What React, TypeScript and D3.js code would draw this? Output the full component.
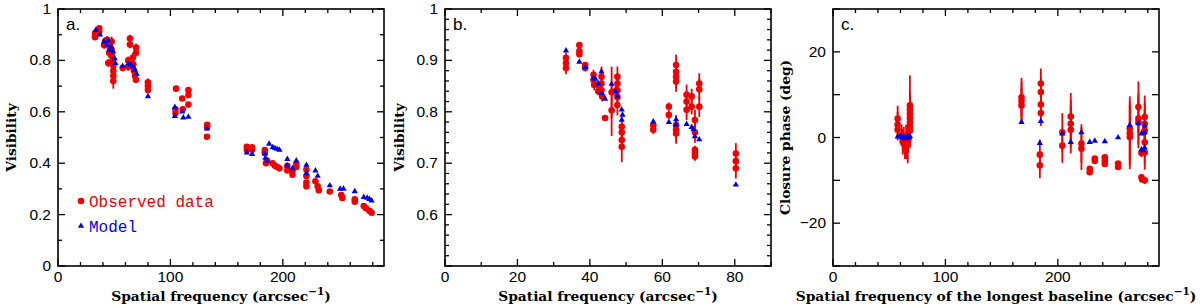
import React from 'react';
import * as d3 from 'd3';

// panel a: visibility vs spatial frequency (all baselines)
const aObsX = [33, 33, 36.7, 36.7, 42, 43.8, 44.7, 46, 47.7, 47.7, 47.7, 48.5, 49.2, 49.2, 49.2, 49.2, 41, 45.5,
  57.5, 62.5, 62.5, 64, 64, 66.5, 67, 67.5, 69.5, 69.5, 69.3, 68.5, 80, 80, 80,
  105, 104.5, 104.5, 110.5, 111, 116, 116, 116, 132.7, 132.7, 132.5,
  168, 168, 172.7, 172.7, 184, 184, 185, 186, 191, 193, 195, 197, 204, 204, 208.6, 208.6, 212, 212,
  221, 221, 221, 221, 229, 231, 232, 241.8, 252, 253, 264, 264, 272, 274, 277, 279];
const aObsY = [0.905, 0.89, 0.925, 0.912, 0.875, 0.88, 0.79, 0.85, 0.873, 0.84, 0.82, 0.8, 0.78, 0.76, 0.74, 0.72, 0.86, 0.83,
  0.77, 0.8, 0.775, 0.885, 0.862, 0.81, 0.785, 0.76, 0.85, 0.83, 0.725, 0.74, 0.715, 0.7, 0.685,
  0.69, 0.61, 0.595, 0.652, 0.61, 0.685, 0.665, 0.628, 0.549, 0.54, 0.503,
  0.464, 0.451, 0.462, 0.452, 0.451, 0.44, 0.4, 0.41, 0.4, 0.39, 0.385, 0.38, 0.39, 0.372, 0.37, 0.355, 0.398, 0.385,
  0.375, 0.35, 0.325, 0.31, 0.33, 0.31, 0.295, 0.29, 0.276, 0.265, 0.26, 0.25, 0.233, 0.225, 0.215, 0.207];
const aObsErr = [0.01, 0.01, 0.008, 0.008, 0.015, 0.015, 0.015, 0.015, 0.02, 0.02, 0.02, 0.02, 0.02, 0.025, 0.03, 0.03, 0.015, 0.02,
  0.01, 0.015, 0.015, 0.015, 0.015, 0.02, 0.02, 0.015, 0.015, 0.015, 0.012, 0.012, 0.015, 0.015, 0.012,
  0.008, 0.01, 0.01, 0.008, 0.008, 0.008, 0.008, 0.008, 0.008, 0.008, 0.006,
  0.006, 0.006, 0.006, 0.006, 0.006, 0.006, 0.005, 0.006, 0.006, 0.006, 0.006, 0.006, 0.006, 0.006, 0.006, 0.006, 0.008, 0.006,
  0.006, 0.006, 0.006, 0.006, 0.006, 0.006, 0.006, 0.005, 0.005, 0.005, 0.005, 0.005, 0.005, 0.005, 0.005, 0.005];
const aModX = [33.6, 37.3, 41, 43.6, 44.7, 46, 47.6, 49, 50.4, 51, 57.5, 62.5, 64.6, 67, 68.4, 70, 80,
  104, 104, 110.5, 111.5, 116, 132.5, 168, 172.7, 184, 187.8, 184.5, 186, 191, 193, 195, 197,
  204, 204, 208.6, 212, 221, 221, 229, 231, 241.8, 251, 254, 264, 272, 275, 277, 279];
const aModY = [0.918, 0.9, 0.873, 0.86, 0.877, 0.84, 0.853, 0.834, 0.808, 0.789, 0.778, 0.786, 0.782, 0.776, 0.763, 0.747, 0.66,
  0.618, 0.583, 0.6, 0.577, 0.58, 0.534, 0.441, 0.435, 0.437, 0.475, 0.42, 0.41, 0.462, 0.458, 0.455, 0.452,
  0.416, 0.39, 0.38, 0.41, 0.393, 0.36, 0.371, 0.35, 0.313, 0.3, 0.3, 0.29, 0.268, 0.265, 0.26, 0.254];

// panel b: zoom on the short baselines
const bObsX = [33.4, 33.4, 33.4, 37.1, 37.1, 37.1, 38.7, 38.7, 41, 41, 41.2, 42.3, 42.3, 43.2, 43.2, 43.2, 43.4, 44.2,
  46, 46, 47.1, 47.6, 47.6, 47.6, 47.6, 47.6, 48.8, 48.8, 48.8, 48.8, 57.5, 57.5, 61.8, 61.8,
  63.8, 63.8, 63.8, 63.8, 63.8, 63.8, 63.8, 66.7, 66.7, 66.7, 68.1, 68.1, 69, 69, 69, 69, 69,
  70.2, 70.2, 70.2, 80.3, 80.3, 80.3];
const bObsY = [0.905, 0.895, 0.885, 0.93, 0.918, 0.912, 0.891, 0.885, 0.872, 0.862, 0.852, 0.852, 0.84, 0.868, 0.855, 0.842, 0.83, 0.788,
  0.838, 0.803, 0.84, 0.868, 0.855, 0.842, 0.829, 0.813, 0.771, 0.76, 0.745, 0.732, 0.774, 0.765, 0.81, 0.794,
  0.891, 0.878, 0.868, 0.859, 0.774, 0.765, 0.758, 0.833, 0.82, 0.804, 0.83, 0.81, 0.784, 0.76, 0.726, 0.72, 0.713,
  0.855, 0.844, 0.81, 0.719, 0.704, 0.69];
const bObsErr = [0.01, 0.01, 0.012, 0.006, 0.006, 0.006, 0.005, 0.005, 0.01, 0.01, 0.01, 0.008, 0.008, 0.02, 0.02, 0.015, 0.01, 0.005,
  0.05, 0.05, 0.01, 0.02, 0.02, 0.02, 0.02, 0.02, 0.02, 0.02, 0.02, 0.03, 0.008, 0.008, 0.008, 0.008,
  0.02, 0.02, 0.02, 0.02, 0.02, 0.02, 0.02, 0.02, 0.02, 0.02, 0.015, 0.015, 0.02, 0.02, 0.008, 0.008, 0.008,
  0.02, 0.02, 0.02, 0.02, 0.02, 0.02];
const bModX = [33.4, 37.1, 38.7, 41, 41.5, 42.3, 43.2, 43.2, 44.2, 46, 47.1, 47.6, 48.8, 49, 48.8, 57.5, 61.8,
  63.8, 63.8, 66.7, 68.1, 68.6, 69, 70.2, 80.3];
const bModY = [0.919, 0.897, 0.887, 0.866, 0.864, 0.855, 0.878, 0.836, 0.825, 0.854, 0.84, 0.83, 0.804, 0.794, 0.784, 0.781, 0.78,
  0.785, 0.775, 0.776, 0.77, 0.766, 0.752, 0.746, 0.658];

// panel c: closure phases
const cObsX = [57.5, 57.5, 57.5, 61, 62, 63, 64, 65, 66, 66.5, 67, 68.4, 68.4, 68.4, 68.4, 68.4, 68.4, 68.4,
  167.7, 167.7, 167.7, 184.9, 184.9, 184.9, 184.9, 184, 184, 204, 204, 211.5, 211.5, 211.5, 221, 221,
  228.4, 228.4, 232.9, 232.9, 241.8, 241.8, 241.8, 253.6, 253.6, 264, 264, 264, 271.7, 271.7, 271.7,
  274.4, 274.4, 275, 277.3, 277.3, 277.3, 277.3, 277.3, 277.3];
const cObsY = [4.4, 3, 1.8, 0.5, -1, -0.5, -2, -1, 0, -1.5, -0.5, 7.5, 6.5, 5.5, 4.5, 3.5, 2.5, 1.6,
  9.4, 8.5, 7.5, 12.6, 10.6, 7.7, 5.7, -4, -6.5, 1.2, -1.9, 4.9, 3.2, 1.8, -1.4, -2.6,
  -7.3, -8.1, -4.9, -5.5, -4.6, -5.4, -6.2, -6.1, -6.9, 2.1, 1, 0.1, 7.1, 4.4, 3.5,
  -3.6, -9.3, -9.8, 4.8, 3.2, 1.6, -1.1, -3.5, -10];
const cObsErr = [3, 3, 2.5, 2.5, 3, 3, 3, 4, 3, 4.5, 3, 7, 4, 4, 4, 4, 4, 4,
  4.5, 4.5, 4, 3.5, 3.5, 3, 3, 3.5, 3, 4.5, 4, 5.5, 5.5, 5.5, 4.5, 5,
  0.6, 0.6, 0.5, 0.5, 0.6, 0.6, 0.6, 0.5, 0.5, 7.5, 7.5, 7.5, 6, 6, 6,
  1, 0.6, 0.6, 5, 5, 5, 5, 4, 0.8];
const cModX = [57.5, 60, 61, 62, 63, 64, 65, 66, 67, 68, 68.4, 167.7, 184.9, 184, 204, 211.5, 221, 228.4, 232.9,
  241.8, 253.6, 264, 271.7, 274.4, 274.4, 277.3, 277.3, 277.3, 276];
const cModY = [0.2, 0.3, 0, -0.1, 0.1, -0.2, 0, -0.1, 0.1, 0, 0.3, 3.6, 3.8, -1.3, 0.9, -1.1, 1.2, -1.1, -0.8,
  -0.9, 0, 2.9, 3.3, 0.9, -2.8, 2.7, 1.1, -2.4, -3];

const RED = '#f00000';
const BLUE = '#0000e8';
const TICK_FONT = 'Liberation Sans, Arial, sans-serif';
const TITLE_FONT = 'DejaVu Serif, serif';
const TOP = 9;
const BOTTOM = 266;

const steps = (lo, hi, step) => d3.range(lo, hi + step / 1000, step).map((v) => +v.toFixed(6));
const fmt = (v) => String(+v.toFixed(2)).replace('-', '\u2212');

const Panel = ({ left, right, xDomain, yDomain, xMajor, xMinor, yMajor, yMinor, yLabelStep, yLabelSkipMin, tag,
  yTitle, yTitleX, xTitle, obsX, obsY, obsErr, modX, modY }) => {
  const x = d3.scaleLinear().domain(xDomain).range([left, right]);
  const y = d3.scaleLinear().domain(yDomain).range([BOTTOM, TOP]);
  const tri = d3.symbol(d3.symbolTriangle, 17)();
  const xMaj = steps(xDomain[0], xDomain[1], xMajor);
  const xMin = steps(xDomain[0], xDomain[1], xMinor);
  const yMaj = steps(yDomain[0], yDomain[1], yMajor);
  const yMin = steps(yDomain[0], yDomain[1], yMinor);
  const labelStep = yLabelStep || yMajor;
  const isLabel = (v) => Math.abs(v / labelStep - Math.round(v / labelStep)) < 1e-6 && !(yLabelSkipMin && v === yDomain[0]);
  return (
    <g>
      {/* ticks on all four sides, pointing inward */}
      {xMin.map((v, i) => {
        const big = xMaj.some((m) => Math.abs(m - v) < 1e-6);
        const l = big ? 7 : 4;
        return (
          <g key={'xt' + i} stroke="#000" strokeWidth={1.3}>
            <line x1={x(v)} x2={x(v)} y1={BOTTOM} y2={BOTTOM - l} />
            <line x1={x(v)} x2={x(v)} y1={TOP} y2={TOP + l} />
          </g>
        );
      })}
      {yMin.map((v, i) => {
        const big = yMaj.some((m) => Math.abs(m - v) < 1e-6);
        const l = big ? 7 : 4;
        return (
          <g key={'yt' + i} stroke="#000" strokeWidth={1.3}>
            <line x1={left} x2={left + l} y1={y(v)} y2={y(v)} />
            <line x1={right} x2={right - l} y1={y(v)} y2={y(v)} />
          </g>
        );
      })}
      {xMaj.map((v, i) => (
        <text key={'xl' + i} x={x(v)} y={282} textAnchor="middle" fontFamily={TICK_FONT} fontSize={15.5}>{fmt(v)}</text>
      ))}
      {yMaj.filter(isLabel).map((v, i) => (
        <text key={'yl' + i} x={left - 7} y={y(v) + 5} textAnchor="end" fontFamily={TICK_FONT} fontSize={15.5}>{fmt(v)}</text>
      ))}
      <rect x={left} y={TOP} width={right - left} height={BOTTOM - TOP} fill="none" stroke="#000" strokeWidth={1.6} />
      <text x={left + 8} y={30} fontFamily={TICK_FONT} fontSize={17}>{tag}</text>

      {/* observed data with error bars */}
      {obsX.map((v, i) => (
        <line key={'e' + i} x1={x(v)} x2={x(v)} y1={y(obsY[i] - obsErr[i])} y2={y(obsY[i] + obsErr[i])}
          stroke={RED} strokeWidth={1.8} />
      ))}
      {obsX.map((v, i) => (
        <circle key={'o' + i} cx={x(v)} cy={y(obsY[i])} r={3.3} fill={RED} />
      ))}
      {modX.map((v, i) => (
        <path key={'m' + i} d={tri} transform={`translate(${x(v)},${y(modY[i])})`} fill={BLUE} />
      ))}

      <text x={(left + right) / 2} y={301} textAnchor="middle" fontFamily={TITLE_FONT} fontWeight="bold" fontSize={13.8}>
        {xTitle}
        <tspan dy={-6} fontSize={10.5}>{'\u22121'}</tspan>
        <tspan dy={6}>)</tspan>
      </text>
      <text transform={`translate(${yTitleX},${(TOP + BOTTOM) / 2}) rotate(-90)`} textAnchor="middle"
        fontFamily={TITLE_FONT} fontWeight="bold" fontSize={13.8}>{yTitle}</text>
    </g>
  );
};

const App = () => {
  const tri = d3.symbol(d3.symbolTriangle, 17)();
  return (
    <svg width={1200} height={308} style={{ position: 'absolute', left: 0, top: 0, background: '#fff' }}>
      <Panel left={58} right={384} xDomain={[0, 290]} yDomain={[0, 1]} xMajor={100} xMinor={20}
        yMajor={0.2} yMinor={0.1} tag="a." yTitle="Visibility" yTitleX={16}
        xTitle="Spatial frequency (arcsec" obsX={aObsX} obsY={aObsY} obsErr={aObsErr} modX={aModX} modY={aModY} />
      <Panel left={445} right={771} xDomain={[0, 90]} yDomain={[0.5, 1]} xMajor={20} xMinor={10}
        yMajor={0.1} yMinor={0.02} yLabelSkipMin tag="b." yTitle="Visibility" yTitleX={404}
        xTitle="Spatial frequency (arcsec" obsX={bObsX} obsY={bObsY} obsErr={bObsErr} modX={bModX} modY={bModY} />
      <Panel left={833} right={1159} xDomain={[0, 290]} yDomain={[-30, 30]} xMajor={100} xMinor={20}
        yMajor={10} yMinor={10} yLabelStep={20} tag="c." yTitle="Closure phase (deg)" yTitleX={790}
        xTitle="Spatial frequency of the longest baseline (arcsec" obsX={cObsX} obsY={cObsY} obsErr={cObsErr}
        modX={cModX} modY={cModY} />

      {/* legend */}
      <circle cx={81} cy={201} r={3.3} fill={RED} />
      <text x={89} y={207} fill={RED} fontFamily="Liberation Mono, monospace" fontSize={16}>Observed data</text>
      <path d={tri} transform="translate(81,226)" fill={BLUE} />
      <text x={89} y={232} fill={BLUE} fontFamily="Liberation Mono, monospace" fontSize={16}>Model</text>
    </svg>
  );
};

export default App;
